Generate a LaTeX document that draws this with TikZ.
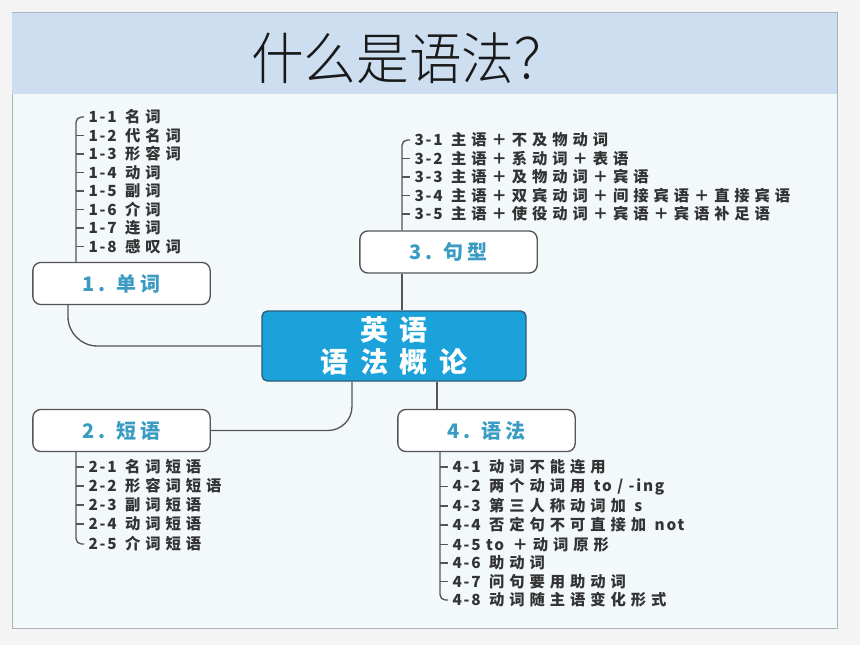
\documentclass[tikz,border=0pt]{standalone}
\usepackage{fontspec}
\newfontfamily\cjklight{Noto Sans CJK SC Light}[FakeStretch=0.94]
\newfontfamily\itemfont{Noto Sans CJK SC}[LetterSpace=32]
\newfontfamily\itemlatin{Noto Sans CJK SC}[LetterSpace=12]
\newfontfamily\topicfont{Noto Sans CJK SC}[LetterSpace=20]
\newfontfamily\hubfont{Noto Sans CJK SC}[LetterSpace=42]
\newcommand\lat[1]{{\itemlatin\bfseries #1}}

\definecolor{outerbg}{HTML}{F4F4F4}
\definecolor{pagebg}{HTML}{F3F8FB}
\definecolor{band}{HTML}{CCDEF0}
\definecolor{frame}{HTML}{A8B4BE}
\definecolor{linegray}{HTML}{555555}
\definecolor{boxtext}{HTML}{3A9CC2}
\definecolor{hubblue}{HTML}{1CA2DA}
\definecolor{hubedge}{HTML}{2B5C78}
\definecolor{itemtext}{HTML}{333333}

\tikzset{every picture/.style={line width=0.75pt}}
\tikzset{
  topic/.style={draw=linegray, fill=white, rounded corners=6pt, line width=1pt,
    minimum width=133pt, minimum height=31.5pt, inner sep=0pt, text=boxtext,
    font=\topicfont\bfseries\fontsize{15}{18}\selectfont},
  hub/.style={draw=hubedge, fill=hubblue, rounded corners=4pt, line width=1pt,
    minimum width=198pt, minimum height=52.5pt, inner sep=0pt, text=white, align=center,
    font=\hubfont\bfseries\fontsize{21}{24}\selectfont},
  item/.style={anchor=west, inner sep=3pt, text=itemtext,
    font=\itemfont\bfseries\fontsize{11.5}{12}\selectfont},
  branch/.style={draw=linegray, line width=1pt, rounded corners=4pt},
  link/.style={draw=linegray, line width=1pt},
}

\begin{document}
\begin{tikzpicture}[x=0.75pt,y=0.75pt,yscale=-1,xscale=1]
\useasboundingbox (0,0) rectangle (860,645);

%Shape: page background
\fill[outerbg] (0,0) rectangle (860,645);
\draw[frame, fill=pagebg] (12,13) rectangle (837,628);
%Shape: title band
\fill[band] (12,13) rectangle (837,94);

% Text Node
\node[font=\cjklight\fontsize{42}{44}\selectfont, text=black!90] (title) at (409,58) {什么是语法？};

%Topic boxes
\node[topic] (words) at (121.5,283.5) {1. 单词};
\node[topic] (patterns) at (448.5,252) {3. 句型};
\node[hub] (hub) at (394,346) {英语\\语法概论};
\node[topic] (phrases) at (121.5,430.5) {2. 短语};
\node[topic] (grammar) at (486.5,430.5) {4. 语法};

%Connectors
\coordinate (k1) at (68,0);
\coordinate (k2) at (352,0);
\coordinate (k3) at (402,0);
\coordinate (k4) at (437,0);
\draw[link, rounded corners=22pt] (words.south -| k1) |- (hub.west);
\draw[link, rounded corners=18pt] (hub.south -| k2) |- (phrases.east);
\draw[link] (patterns.south -| k3) -- (hub.north -| k3);
\draw[link] (hub.south -| k4) -- (grammar.north -| k4);

% Text Node: list 1
\node[item] (w1) at (84,117) {\lat{1-1} 名词};
\node[item] (w2) at (84,135.5) {\lat{1-2} 代名词};
\node[item] (w3) at (84,154) {\lat{1-3} 形容词};
\node[item] (w4) at (84,172.5) {\lat{1-4} 动词};
\node[item] (w5) at (84,191) {\lat{1-5} 副词};
\node[item] (w6) at (84,209.5) {\lat{1-6} 介词};
\node[item] (w7) at (84,228) {\lat{1-7} 连词};
\node[item] (w8) at (84,246.5) {\lat{1-8} 感叹词};
\coordinate (t1) at (76,0);
\draw[branch] (words.north -| t1) -- (t1 |- w1.west) -- (w1.west);
\draw[branch] (t1 |- w2.west) -- (w2.west);
\draw[branch] (t1 |- w3.west) -- (w3.west);
\draw[branch] (t1 |- w4.west) -- (w4.west);
\draw[branch] (t1 |- w5.west) -- (w5.west);
\draw[branch] (t1 |- w6.west) -- (w6.west);
\draw[branch] (t1 |- w7.west) -- (w7.west);
\draw[branch] (t1 |- w8.west) -- (w8.west);

% Text Node: list 3
\node[item] (p1) at (410,140) {\lat{3-1} 主语＋不及物动词};
\node[item] (p2) at (410,158.5) {\lat{3-2} 主语＋系动词＋表语};
\node[item] (p3) at (410,177) {\lat{3-3} 主语＋及物动词＋宾语};
\node[item] (p4) at (410,195.5) {\lat{3-4} 主语＋双宾动词＋间接宾语＋直接宾语};
\node[item] (p5) at (410,214) {\lat{3-5} 主语＋使役动词＋宾语＋宾语补足语};
\coordinate (t3) at (402,0);
\draw[branch] (patterns.north -| t3) -- (t3 |- p1.west) -- (p1.west);
\draw[branch] (t3 |- p2.west) -- (p2.west);
\draw[branch] (t3 |- p3.west) -- (p3.west);
\draw[branch] (t3 |- p4.west) -- (p4.west);
\draw[branch] (t3 |- p5.west) -- (p5.west);

% Text Node: list 2
\node[item] (h1) at (84,467) {\lat{2-1} 名词短语};
\node[item] (h2) at (84,486) {\lat{2-2} 形容词短语};
\node[item] (h3) at (84,505) {\lat{2-3} 副词短语};
\node[item] (h4) at (84,524) {\lat{2-4} 动词短语};
\node[item] (h5) at (84,544) {\lat{2-5} 介词短语};
\coordinate (t2) at (76,0);
\draw[branch] (phrases.south -| t2) -- (t2 |- h5.west) -- (h5.west);
\draw[branch] (t2 |- h1.west) -- (h1.west);
\draw[branch] (t2 |- h2.west) -- (h2.west);
\draw[branch] (t2 |- h3.west) -- (h3.west);
\draw[branch] (t2 |- h4.west) -- (h4.west);

% Text Node: list 4
\node[item] (g1) at (448,467) {\lat{4-1} 动词不能连用};
\node[item] (g2) at (448,486.5) {\lat{4-2} 两个动词用 \lat{to / -ing}};
\node[item] (g3) at (448,506) {\lat{4-3} 第三人称动词加 \lat{s}};
\node[item] (g4) at (448,525) {\lat{4-4} 否定句不可直接加 \lat{not}};
\node[item] (g5) at (448,544.5) {\lat{4-5 to} ＋动词原形};
\node[item] (g6) at (448,563) {\lat{4-6} 助动词};
\node[item] (g7) at (448,581.5) {\lat{4-7} 问句要用助动词};
\node[item] (g8) at (448,600) {\lat{4-8} 动词随主语变化形式};
\coordinate (t4) at (440,0);
\draw[branch] (grammar.south -| t4) -- (t4 |- g8.west) -- (g8.west);
\draw[branch] (t4 |- g1.west) -- (g1.west);
\draw[branch] (t4 |- g2.west) -- (g2.west);
\draw[branch] (t4 |- g3.west) -- (g3.west);
\draw[branch] (t4 |- g4.west) -- (g4.west);
\draw[branch] (t4 |- g5.west) -- (g5.west);
\draw[branch] (t4 |- g6.west) -- (g6.west);
\draw[branch] (t4 |- g7.west) -- (g7.west);
\end{tikzpicture}
\end{document}
